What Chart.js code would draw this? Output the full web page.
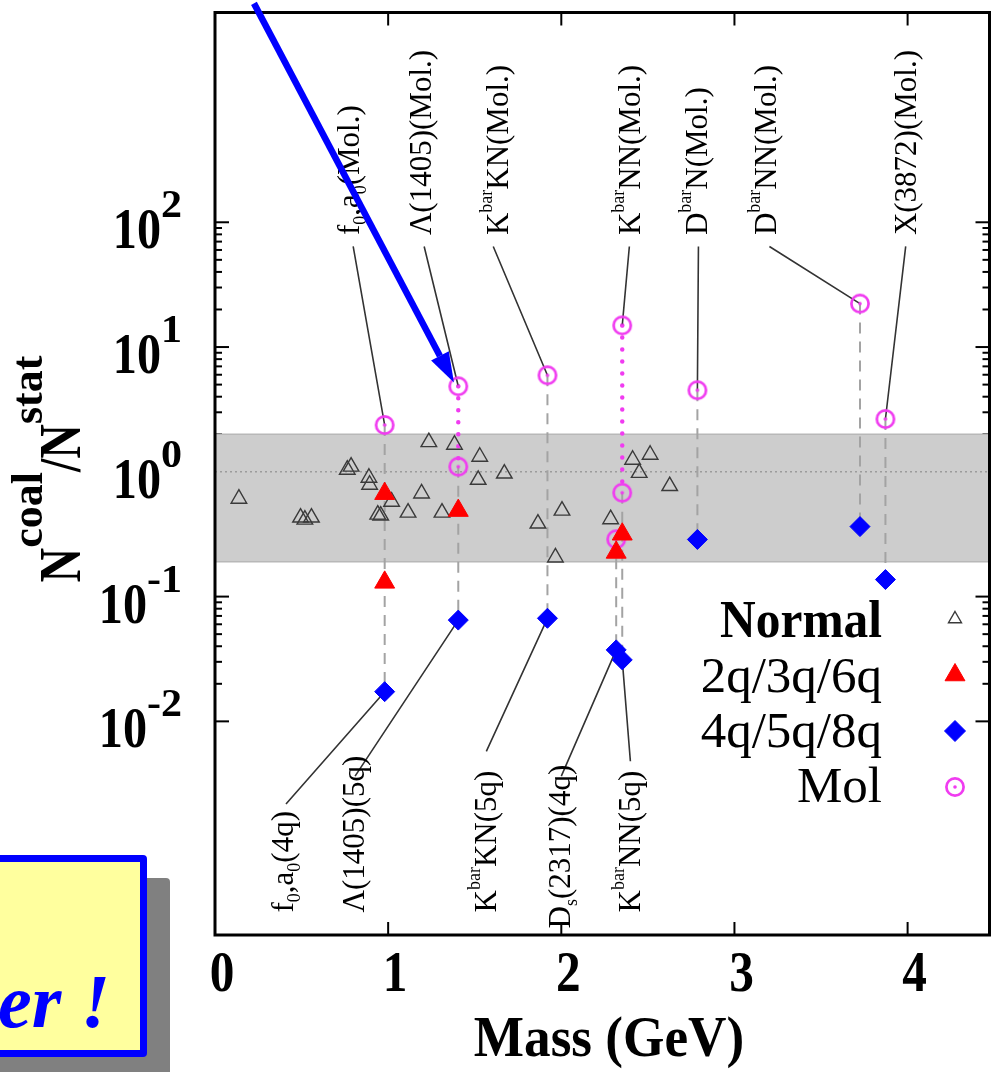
<!DOCTYPE html>
<html>
<head>
<meta charset="utf-8">
<script src="https://cdn.jsdelivr.net/npm/chart.js@4.4.1/dist/chart.umd.min.js"></script>
<style>
  html, body { margin: 0; padding: 0; background: #fff; overflow: hidden; }
  #wrap { position: relative; width: 1002px; height: 1072px; }
  #note {
    position: absolute; left: -260px; top: 855px; width: 407px; height: 202px;
    box-sizing: border-box; border: 7px solid #0000ff; border-radius: 4px;
    background: #ffff9e; box-shadow: 23px 23px 0 #808080; overflow: hidden;
  }
  #note span {
    position: absolute; right: 30px; top: 96px; line-height: 76px; white-space: nowrap;
    font: italic bold 76px "Liberation Serif", serif; color: #0000ff;
  }
</style>
</head>
<body>
<div id="wrap">
  <canvas id="c" width="1002" height="1072"></canvas>
  <div id="note"><span>Larger !</span></div>
</div>
<script>
// normal hadrons (mass in GeV, Ncoal/Nstat)
const normalMass  = [0.138, 0.494, 0.519, 0.557, 0.764, 0.786, 0.889, 0.893, 0.940, 0.957, 1.020, 1.115, 1.193, 1.235,
                     1.311, 1.383, 1.529, 1.520, 1.671, 1.865, 2.004, 1.966, 2.285, 2.412, 2.513, 2.450, 2.626];
const normalRatio = [0.609, 0.430, 0.414, 0.430, 1.04, 1.10, 0.896, 0.788, 0.454, 0.446, 0.576, 0.471, 0.671, 1.73,
                     0.471, 1.65, 1.32, 0.863, 0.969, 0.385, 0.489, 0.206, 0.417, 1.25, 1.37, 0.98, 0.769];

// exotic candidates
const hadronName  = ['f0,a0', 'Λ(1405)', 'K̄KN', 'Ds(2317)', 'K̄NN', 'D̄N', 'D̄NN', 'X(3872)'];
const hadronMass  = [0.98, 1.405, 1.92, 2.317, 2.352, 2.786, 3.725, 3.872];
const molRatio     = [[2.37], [4.85, 1.10], [5.94], [0.288], [14.9, 0.68], [4.51], [22.3], [2.65]];
const compactRatio = [[0.668, 0.130], [0.489], [], [0.226], [0.316], [], [], []];   // 2q/3q/6q
const multiRatio   = [[0.0173], [0.0648], [0.067], [0.0374], [0.0311], [0.287], [0.364], [0.137]]; // 4q/5q/8q

const statBand = [0.19, 2.0];
const yTickPowers = [-2, -1, 0, 1, 2];
const xTicks = [0, 1, 2, 3, 4];

// name labels (placed in data units)
const topLabelText   = ['f_{0},a_{0}(Mol.)', 'Λ(1405)(Mol.)', 'K^{bar}KN(Mol.)', 'K^{bar}NN(Mol.)', 'D^{bar}N(Mol.)', 'D^{bar}NN(Mol.)', 'X(3872)(Mol.)'];
const topLabelHadron = [0, 1, 2, 4, 5, 6, 7];
const topLabelMass   = [0.832, 1.248, 1.692, 2.456, 2.843, 3.242, 4.051];
const topLeaderMass  = [0.798, 1.208, 1.607, 2.393, 2.792, 3.202, 3.989];
const topLabelRatio = 78.9, topLeaderRatio = 64;

const bottomLabelText   = ['f_{0},a_{0}(4q)', 'Λ(1405)(5q)', 'K^{bar}KN(5q)', 'D_{s}(2317)(4q)', 'K^{bar}NN(5q)'];
const bottomLabelHadron = [0, 1, 2, 3, 4];
const bottomLabelMass   = [0.450, 0.860, 1.624, 2.051, 2.456];
const bottomLabelRatio  = [2.94e-4, 2.94e-4, 2.94e-4, 2.19e-4, 2.94e-4];
const bottomLeaderMass  = [0.410, 0.809, 1.567, 2.0, 2.399];
const bottomLeaderRatio = [2.18e-3, 3.64e-3, 5.75e-3, 3.64e-3, 4.79e-3];

// blue arrow pointing at Λ(1405) molecule
const arrowFrom = {x: 0.225, y: 5680};
const arrowTo   = {x: 1.38, y: 5.2};

const FONT = '"Liberation Serif", "Times New Roman", serif';
const MAG = '#f03cf0';

const molImg = document.createElement('canvas');
molImg.width = molImg.height = 24;
{
  const g = molImg.getContext('2d');
  g.strokeStyle = MAG; g.lineWidth = 2.7;
  g.beginPath(); g.arc(12, 12, 8.6, 0, 2 * Math.PI); g.stroke();
  g.fillStyle = MAG;
  g.beginPath(); g.arc(12, 12, 1.8, 0, 2 * Math.PI); g.fill();
}

const pts = (groups) => groups.flatMap((g, i) => g.map(v => ({x: hadronMass[i], y: v})));

// vertical dashed guides: lowest molecule value down to the lowest exotic value
const dashedGuide = [];
const dottedGuide = [];
hadronMass.forEach((m, i) => {
  const all = molRatio[i].concat(compactRatio[i], multiRatio[i]);
  dashedGuide.push({x: m, y: Math.min(...molRatio[i])}, {x: m, y: Math.min(...all)}, {x: m, y: null});
  if (molRatio[i].length > 1) {
    dottedGuide.push({x: m, y: Math.max(...molRatio[i])}, {x: m, y: Math.min(...molRatio[i])}, {x: m, y: null});
  }
});

const leaders = [];
topLabelHadron.forEach((h, i) => {
  leaders.push({x: topLeaderMass[i], y: topLeaderRatio}, {x: hadronMass[h], y: Math.max(...molRatio[h])}, {x: 0, y: null});
});
bottomLabelHadron.forEach((h, i) => {
  leaders.push({x: bottomLeaderMass[i], y: bottomLeaderRatio[i]}, {x: hadronMass[h], y: multiRatio[h][0]}, {x: 0, y: null});
});

function parseRich(str) {
  const segs = [];
  const re = /([\^_])\{([^}]*)\}/g;
  let last = 0, m;
  while ((m = re.exec(str))) {
    if (m.index > last) segs.push({t: str.slice(last, m.index), k: 0});
    segs.push({t: m[2], k: m[1] === '^' ? 1 : -1});
    last = re.lastIndex;
  }
  if (last < str.length) segs.push({t: str.slice(last), k: 0});
  return segs;
}

function drawRich(ctx, str, x, y, o) {
  const segs = parseRich(str);
  const font = s => `${o.italic ? 'italic ' : ''}${o.bold ? 'bold ' : ''}${s}px ${FONT}`;
  const small = o.small || o.size * 0.65;
  ctx.save();
  ctx.translate(x, y);
  if (o.rot) ctx.rotate(-Math.PI / 2);
  let w = 0;
  segs.forEach(s => {
    ctx.font = font(s.k ? small : o.size);
    s.sx = s.k ? (o.ssx || o.sx || 1) : (o.sx || 1);
    s.w = ctx.measureText(s.t).width * s.sx;
    w += s.w;
  });
  let cx = o.align === 'right' ? -w : o.align === 'center' ? -w / 2 : 0;
  ctx.fillStyle = o.color || '#000';
  ctx.textAlign = 'left';
  ctx.textBaseline = 'alphabetic';
  segs.forEach(s => {
    ctx.font = font(s.k ? small : o.size);
    const dy = s.k === 1 ? -(o.rise || o.size * 0.42) : s.k === -1 ? (o.drop || o.size * 0.2) : 0;
    ctx.save();
    ctx.translate(cx, dy);
    ctx.scale(s.sx, 1);
    ctx.fillText(s.t, 0, 0);
    ctx.restore();
    cx += s.w;
  });
  ctx.restore();
}

function seg(ctx, x1, y1, x2, y2) {
  ctx.beginPath(); ctx.moveTo(x1, y1); ctx.lineTo(x2, y2); ctx.stroke();
}

const decor = {
  id: 'decor',
  beforeDatasetsDraw(chart) {
    const {ctx, chartArea: a, scales: {x, y}} = chart;
    ctx.save();
    ctx.strokeStyle = '#000';
    ctx.lineWidth = 2;
    yTickPowers.forEach(k => {
      const py = y.getPixelForValue(Math.pow(10, k));
      seg(ctx, a.left, py, a.left + 14, py);
      seg(ctx, a.right, py, a.right - 14, py);
    });
    for (let k = yTickPowers[0]; k < yTickPowers[yTickPowers.length - 1]; k++) {
      for (let m = 2; m <= 9; m++) {
        const py = y.getPixelForValue(m * Math.pow(10, k));
        seg(ctx, a.left, py, a.left + 7, py);
        seg(ctx, a.right, py, a.right - 7, py);
      }
    }
    xTicks.slice(1).forEach(v => {
      const px = x.getPixelForValue(v);
      seg(ctx, px, a.bottom, px, a.bottom - 13);
      seg(ctx, px, a.top, px, a.top + 13);
    });
    // statistical-model band
    const b1 = y.getPixelForValue(statBand[1]), b0 = y.getPixelForValue(statBand[0]);
    ctx.fillStyle = '#cdcdcd';
    ctx.fillRect(a.left, b1, a.width, b0 - b1);
    ctx.strokeStyle = '#b8b8b8';
    ctx.lineWidth = 1.5;
    seg(ctx, a.left, b1, a.right, b1);
    seg(ctx, a.left, b0, a.right, b0);
    const p1 = y.getPixelForValue(1);
    ctx.setLineDash([2, 3]);
    ctx.strokeStyle = '#9c9c9c';
    seg(ctx, a.left, p1, a.right, p1);
    ctx.restore();
  },
  afterDatasetsDraw(chart) {
    const {ctx, chartArea: a, scales: {x, y}} = chart;
    ctx.save();
    ctx.strokeStyle = '#000';
    ctx.lineWidth = 3;
    ctx.strokeRect(a.left, a.top, a.width, a.height);

    yTickPowers.forEach(k => {
      const py = y.getPixelForValue(Math.pow(10, k));
      drawRich(ctx, '10^{' + k + '}', 182, py + 26, {size: 56, bold: true, sx: 0.86, small: 40, ssx: 1.05, rise: 31, align: 'right'});
    });
    xTicks.forEach(v => {
      drawRich(ctx, String(v), x.getPixelForValue(v) + 7, 991, {size: 56, bold: true, sx: 0.88, align: 'center'});
    });
    drawRich(ctx, 'Mass (GeV)', 609, 1056, {size: 56, bold: true, sx: 0.95, align: 'center'});
    drawRich(ctx, 'N^{coal}/N^{stat}', 80, 469, {size: 60, bold: true, sx: 0.8, small: 44, ssx: 1, rise: 38, align: 'center', rot: true});

    const lbl = {size: 31, small: 18, rise: 16, drop: 7, rot: true};
    topLabelText.forEach((t, i) => {
      drawRich(ctx, t, x.getPixelForValue(topLabelMass[i]), y.getPixelForValue(topLabelRatio), lbl);
    });
    bottomLabelText.forEach((t, i) => {
      drawRich(ctx, t, x.getPixelForValue(bottomLabelMass[i]), y.getPixelForValue(bottomLabelRatio[i]), lbl);
    });

    // legend
    const entries = [0, 1, 2, 3];
    entries.forEach((d, i) => {
      const ds = chart.data.datasets[d];
      drawRich(ctx, ds.label, 882, 637 + 55 * i, {size: i === 0 ? 52 : 51, bold: i === 0, sx: i === 0 ? 0.95 : 1, align: 'right'});
      ctx.save();
      ctx.fillStyle = ds.pointBackgroundColor;
      ctx.strokeStyle = ds.pointBorderColor;
      ctx.lineWidth = ds.pointBorderWidth;
      Chart.helpers.drawPoint(ctx, {pointStyle: ds.pointStyle, radius: ds.legendRadius, borderWidth: ds.pointBorderWidth, rotation: 0}, 955, 619 + 56 * i);
      ctx.restore();
    });

    // annotation arrow
    const x0 = x.getPixelForValue(arrowFrom.x), y0 = y.getPixelForValue(arrowFrom.y);
    const x1 = x.getPixelForValue(arrowTo.x), y1 = y.getPixelForValue(arrowTo.y);
    const ang = Math.atan2(y1 - y0, x1 - x0);
    const hl = 30, hw = 10;
    const bx = x1 - hl * Math.cos(ang), by = y1 - hl * Math.sin(ang);
    ctx.strokeStyle = '#0000ff';
    ctx.fillStyle = '#0000ff';
    ctx.lineWidth = 6.5;
    seg(ctx, x0, y0, bx, by);
    ctx.beginPath();
    ctx.moveTo(x1, y1);
    ctx.lineTo(bx + hw * Math.sin(ang), by - hw * Math.cos(ang));
    ctx.lineTo(bx - hw * Math.sin(ang), by + hw * Math.cos(ang));
    ctx.closePath();
    ctx.fill();
    ctx.restore();
  }
};

new Chart(document.getElementById('c'), {
  type: 'scatter',
  data: {
    datasets: [
      {
        label: 'Normal', data: normalMass.map((m, i) => ({x: m, y: normalRatio[i]})),
        pointStyle: 'triangle', pointRadius: 9, legendRadius: 7.5,
        pointBackgroundColor: 'rgba(0,0,0,0)', pointBorderColor: '#3a3a3a', pointBorderWidth: 1.4, order: 3
      },
      {
        label: '2q/3q/6q', data: pts(compactRatio),
        pointStyle: 'triangle', pointRadius: 11.5, legendRadius: 11.5,
        pointBackgroundColor: '#ff0000', pointBorderColor: '#ff0000', pointBorderWidth: 1, order: 1
      },
      {
        label: '4q/5q/8q', data: pts(multiRatio),
        pointStyle: 'rectRot', pointRadius: 10, legendRadius: 10.5,
        pointBackgroundColor: '#0000ff', pointBorderColor: '#0000ff', pointBorderWidth: 1, order: 0
      },
      {
        label: 'Mol', data: pts(molRatio),
        pointStyle: molImg, pointRadius: 10, legendRadius: 10,
        pointBackgroundColor: MAG, pointBorderColor: MAG, pointBorderWidth: 1, order: 2
      },
      {
        label: 'guide', data: dashedGuide, showLine: true, pointRadius: 0,
        borderColor: '#a3a3a3', borderWidth: 2, borderDash: [11, 8], order: 12
      },
      {
        label: 'mol range', data: dottedGuide, showLine: true, pointRadius: 0,
        borderColor: MAG, borderWidth: 4.5, borderDash: [0, 12], borderCapStyle: 'round', order: 11
      },
      {
        label: 'leaders', data: leaders, showLine: true, pointRadius: 0,
        borderColor: '#333333', borderWidth: 1.6, order: 10
      }
    ]
  },
  options: {
    responsive: false,
    animation: false,
    events: [],
    layout: {padding: {left: 215, right: 2, top: 7, bottom: 137}},
    scales: {
      x: {type: 'linear', min: 0, max: 4.473, display: false},
      y: {type: 'logarithmic', min: 1.94e-4, max: 4.8e3, display: false}
    },
    plugins: {legend: {display: false}, tooltip: {enabled: false}}
  },
  plugins: [decor]
});
</script>
</body>
</html>
